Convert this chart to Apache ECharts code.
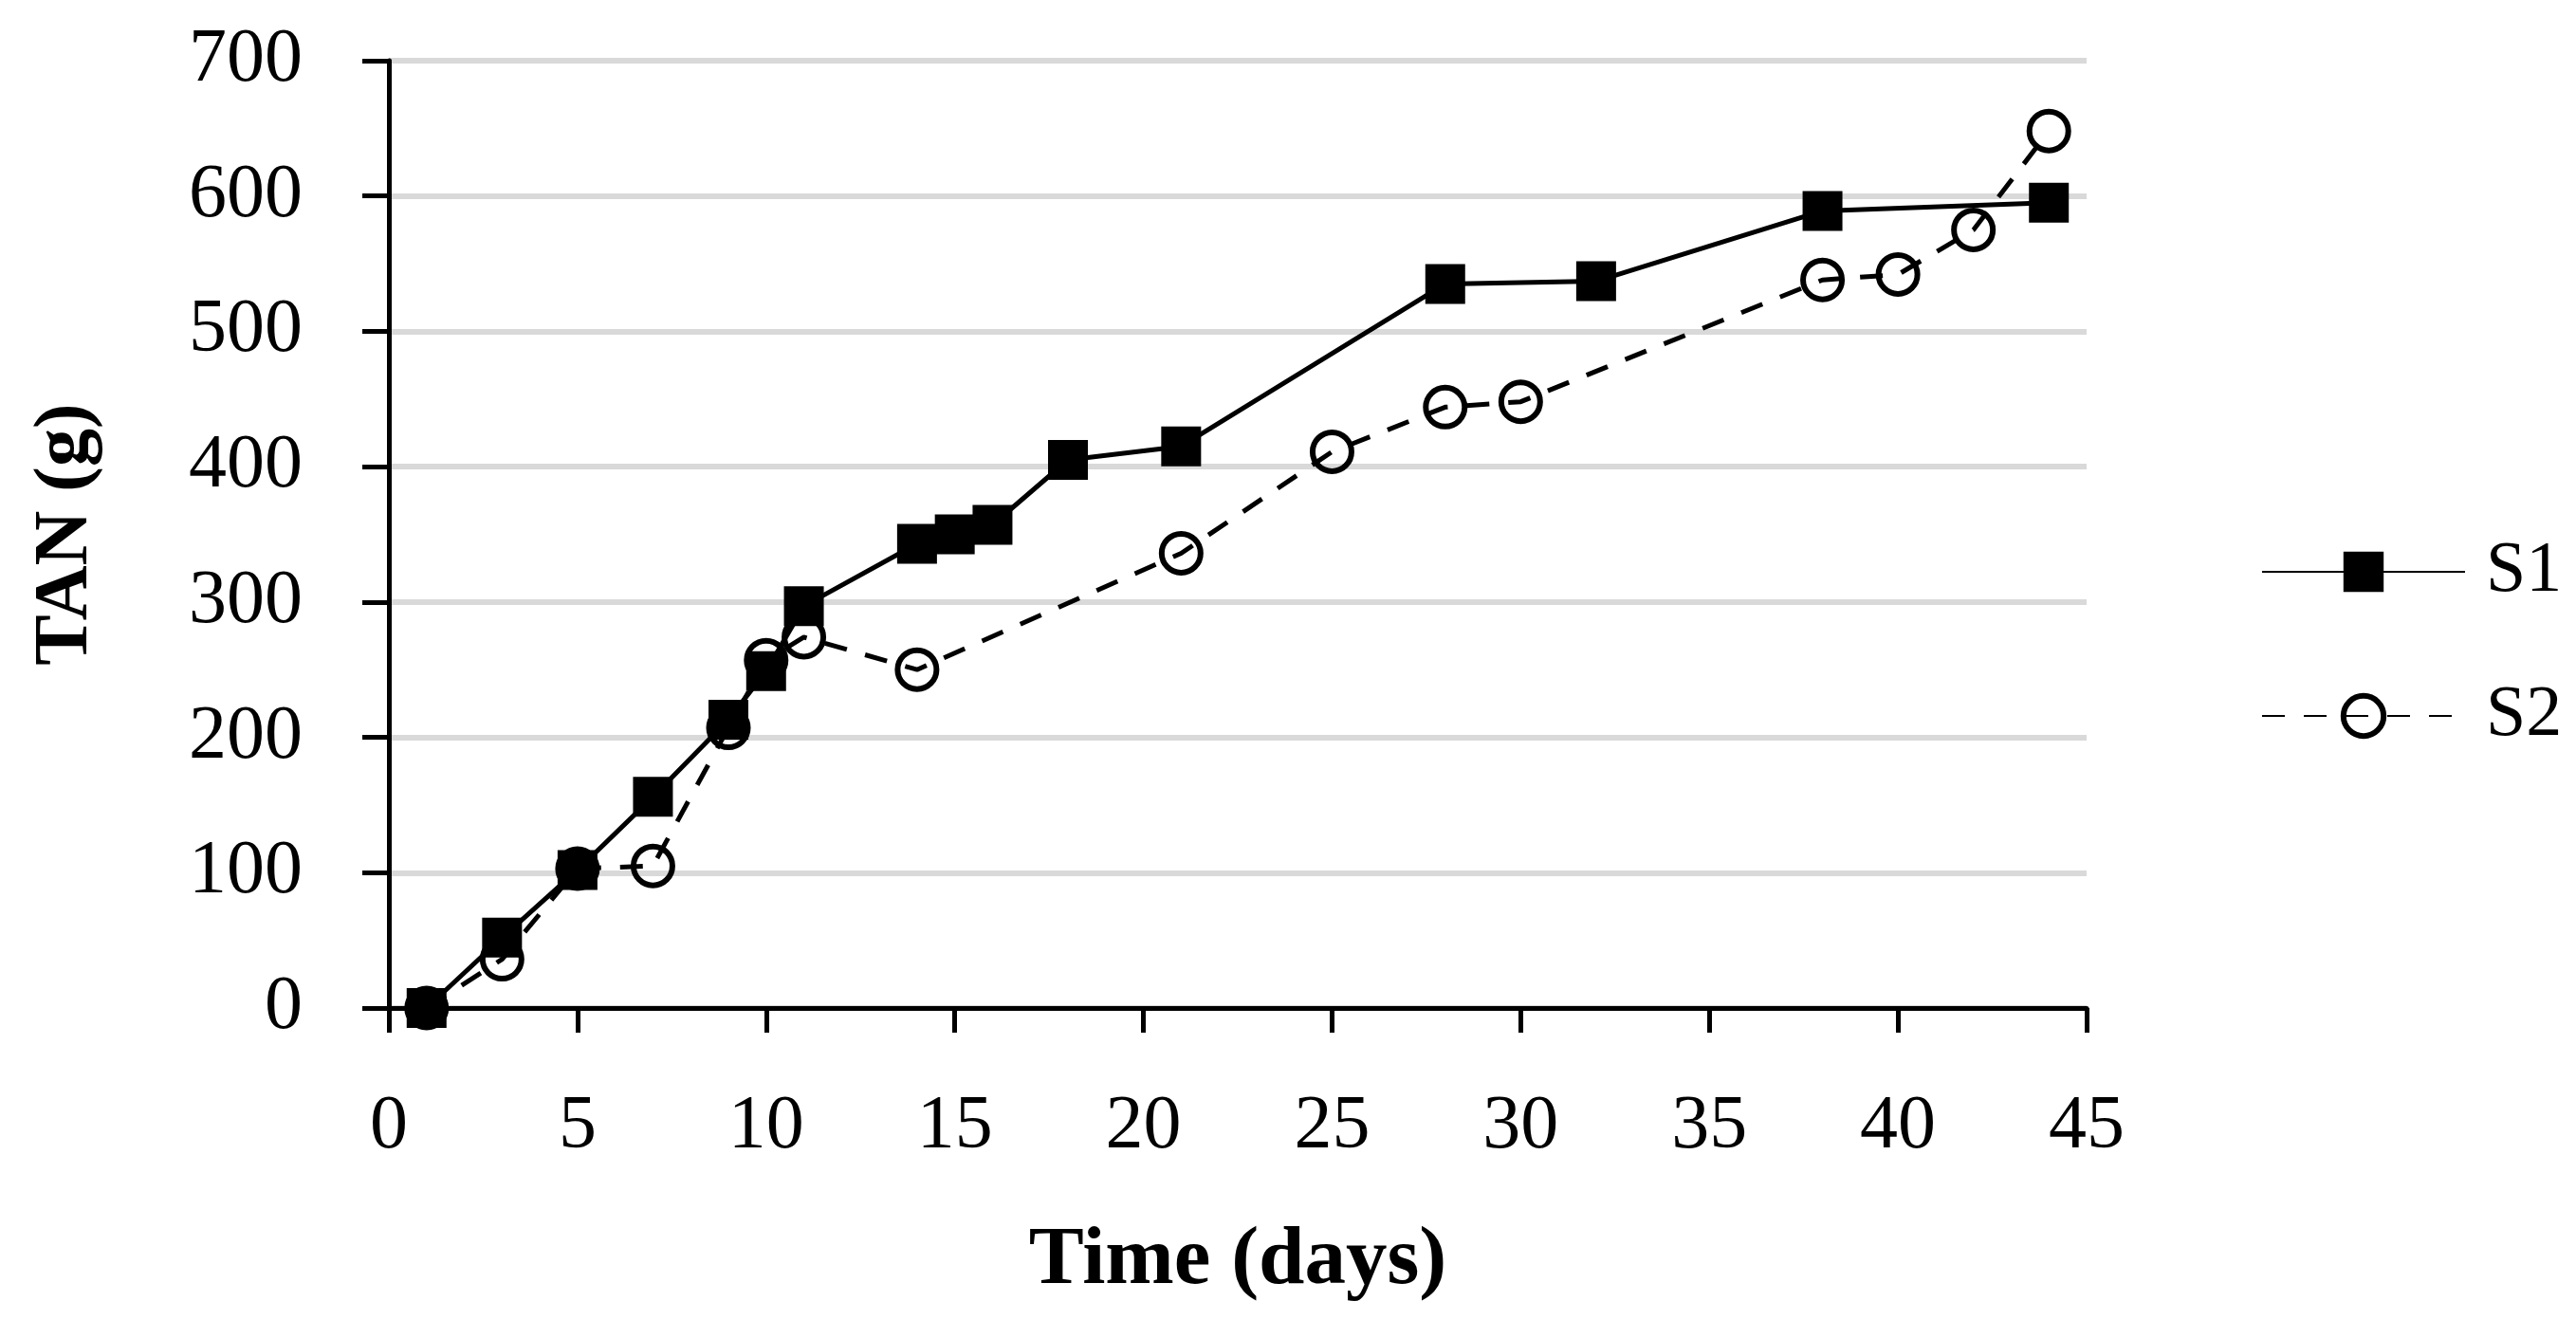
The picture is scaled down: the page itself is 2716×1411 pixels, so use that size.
<!DOCTYPE html>
<html>
<head>
<meta charset="utf-8">
<script src="https://cdn.jsdelivr.net/npm/echarts@6/dist/echarts.min.js"></script>
<style>
html,body{margin:0;padding:0;background:#fff;}
#chart{width:2716px;height:1411px;}
</style>
</head>
<body>
<div id="chart"></div>
<script>
// Data
const daysS1 = [1, 3, 5, 7, 9, 10, 11, 14, 15, 16, 18, 21, 28, 32, 38, 44];
const tanS1  = [0, 52, 102, 156, 213, 249, 297, 343, 350, 357, 405, 415, 535, 537, 589, 595];
const daysS2 = [1, 3, 5, 7, 9, 10, 11, 14, 21, 25, 28, 30, 38, 40, 42, 44];
const tanS2  = [0, 36, 103, 105, 207, 257, 274, 250, 336, 411, 444, 448, 538, 542, 575, 648];
const seriesNames = ['S1', 'S2'];
const xTitle = 'Time (days)';
const yTitle = 'TAN (g)';

const FONT = 'Liberation Serif';
const pair = (xs, ys) => xs.map((x, i) => [x, ys[i]]);

const chart = echarts.init(document.getElementById('chart'), null, {renderer: 'canvas'});
chart.setOption({
  animation: false,
  backgroundColor: '#ffffff',
  grid: {left: 410, right: 516, top: 64, bottom: 348, containLabel: false},
  xAxis: {
    type: 'value', min: 0, max: 45, interval: 5,
    name: xTitle, nameLocation: 'middle', nameGap: 224,
    nameTextStyle: {fontFamily: FONT, fontSize: 87, fontWeight: 'bold', color: '#000'},
    axisLine: {show: true, onZero: false, lineStyle: {color: '#000', width: 5}},
    axisTick: {show: true, length: 26, lineStyle: {color: '#000', width: 5}},
    axisLabel: {fontFamily: FONT, fontSize: 80, color: '#000', margin: 86},
    splitLine: {show: false}
  },
  yAxis: {
    type: 'value', min: 0, max: 700, interval: 100,
    name: yTitle, nameLocation: 'middle', nameGap: 300, nameRotate: 90,
    nameTextStyle: {fontFamily: FONT, fontSize: 80, fontWeight: 'bold', color: '#000'},
    axisLine: {show: true, lineStyle: {color: '#000', width: 5}},
    axisTick: {show: true, length: 28, lineStyle: {color: '#000', width: 5}},
    axisLabel: {fontFamily: FONT, fontSize: 80, color: '#000', margin: 91},
    splitLine: {show: true, lineStyle: {color: '#d9d9d9', width: 6}}
  },
  legend: {
    orient: 'vertical', left: 2379, top: 560,
    itemWidth: 214, itemHeight: 53, itemGap: 76,
    textStyle: {fontFamily: FONT, fontSize: 76, color: '#000', padding: [0, 0, 0, 17]},
    data: [
      {name: seriesNames[0], itemStyle: {borderWidth: 0}},
      {name: seriesNames[1], itemStyle: {borderWidth: 6, borderColor: '#000'}}
    ]
  },
  series: [
    {
      name: seriesNames[0], type: 'line', data: pair(daysS1, tanS1),
      symbol: 'rect', symbolSize: 42,
      lineStyle: {color: '#000', width: 5, type: 'solid'},
      itemStyle: {color: '#000', borderColor: '#000', borderWidth: 0}
    },
    {
      name: seriesNames[1], type: 'line', data: pair(daysS2, tanS2),
      symbol: 'circle', symbolSize: 41,
      lineStyle: {color: '#000', width: 5, type: [24, 20]},
      itemStyle: {color: 'rgba(255,255,255,0)', borderColor: '#000', borderWidth: 6}
    }
  ]
});
</script>
</body>
</html>
